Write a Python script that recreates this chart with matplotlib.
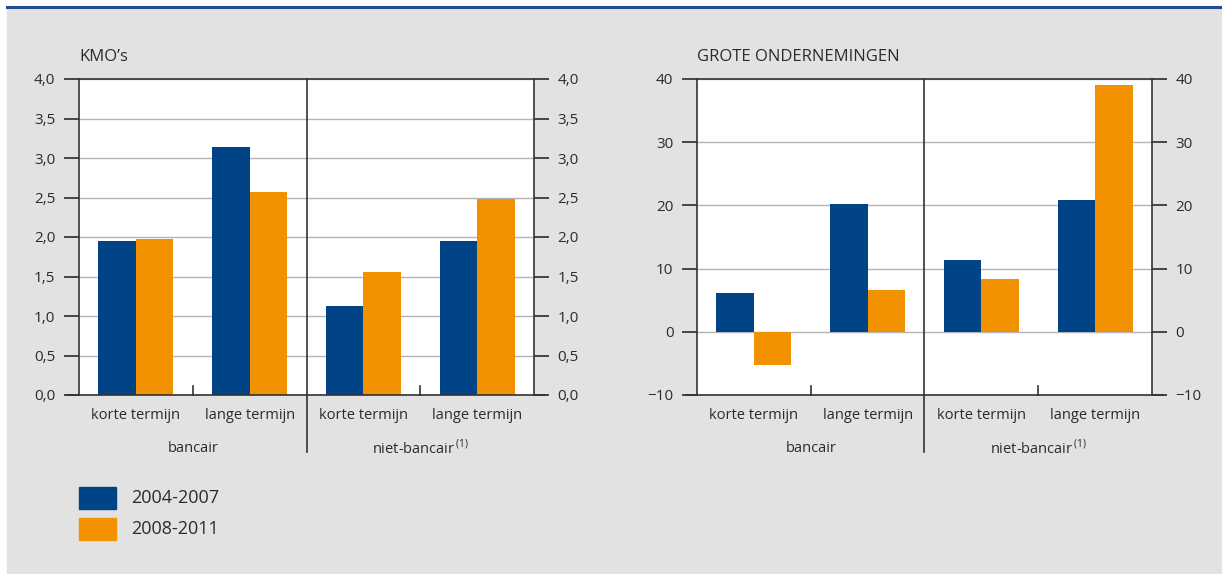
import numpy as np
import matplotlib.pyplot as plt
from matplotlib.patches import Rectangle

plt.rcParams['font.family'] = ['Open Sans', 'DejaVu Sans']

# Data
termijnen = ["korte termijn", "lange termijn", "korte termijn", "lange termijn"]
groepen = ["bancair", "niet-bancair"]
periodes = ["2004-2007", "2008-2011"]

kmo_2004_2007 = [1.95, 3.14, 1.13, 1.95]
kmo_2008_2011 = [1.97, 2.57, 1.56, 2.48]

grote_2004_2007 = [6.2, 20.2, 11.4, 20.8]
grote_2008_2011 = [-5.2, 6.6, 8.4, 39.0]

BLUE = "#004387"
ORANGE = "#f39200"
BG = "#e2e2e2"
TXT = "#2b2b2b"
W, H = 1222, 574

fig = plt.figure(figsize=(W / 100, H / 100), dpi=100)
fig.patch.set_facecolor("white")

# grey panel with a blue rule on top
fig.add_artist(Rectangle((7 / W, 1 / H), 1 - 7 / W, 1 - 9 / H, color=BG,
                         transform=fig.transFigure, zorder=0))
fig.add_artist(plt.Line2D([7 / W, 1.0], [1 - 7 / H, 1 - 7 / H], color="#1f4f8f", lw=2.2,
                          transform=fig.transFigure))


def panel(rect, v1, v2, ylim, yticks, fmt, title):
    ax = fig.add_axes(rect)
    ax.set_facecolor("white")
    x = np.arange(4) + 0.5
    w = 0.33
    ax.bar(x - w / 2, v1, w, color=BLUE, zorder=3)
    ax.bar(x + w / 2, v2, w, color=ORANGE, zorder=3)
    ax.set_xlim(0, 4)
    ax.set_ylim(*ylim)
    ax.set_yticks(yticks)
    ax.set_yticklabels([fmt(t) for t in yticks])
    ax.yaxis.grid(True, color="#b4b4b4", lw=1, zorder=1)
    ax.tick_params(axis="y", which="both", left=True, right=True, labelleft=True,
                   labelright=True, direction="out", length=11, width=1.2,
                   colors=TXT, labelsize=11, pad=6)
    ax.set_xticks([])
    for s in ["left", "right", "top"]:
        ax.spines[s].set_color("#333333")
        ax.spines[s].set_linewidth(1.2)
    ax.spines["bottom"].set_visible(False)

    # baseline extending past the frame
    ax.plot([-0.1, 4.1], [ylim[0], ylim[0]], color="#333333", lw=1.2,
            clip_on=False, zorder=5)
    # divider between bancair and niet-bancair
    ax.plot([2, 2], [1, -0.18], color="#333333", lw=1.2, clip_on=False,
            transform=ax.get_xaxis_transform(), zorder=5)
    # small ticks between korte and lange termijn
    for xt in [1, 3]:
        ax.plot([xt, xt], [0, 0.03], color="#333333", lw=1.2, clip_on=False,
                transform=ax.get_xaxis_transform(), zorder=5)

    for xi, lab in zip(x, termijnen):
        ax.text(xi, -0.065, lab, transform=ax.get_xaxis_transform(),
                ha="center", va="center", fontsize=10.5, color=TXT)
    ax.text(1, -0.168, groepen[0], transform=ax.get_xaxis_transform(),
            ha="center", va="center", fontsize=10.5, color=TXT)
    ax.text(3, -0.168, groepen[1] + r"$^{\,\mathregular{(1)}}$",
            transform=ax.get_xaxis_transform(),
            ha="center", va="center", fontsize=10.5, color=TXT)
    ax.text(0, 1.07, title, transform=ax.transAxes, ha="left", va="center",
            fontsize=12, color=TXT)
    return ax


panel([79 / W, 1 - 395 / H, 455 / W, 316 / H], kmo_2004_2007, kmo_2008_2011,
      (0, 4), np.arange(0, 4.01, 0.5), lambda t: f"{t:.1f}".replace(".", ","), "KMO\u2019s")
panel([697 / W, 1 - 395 / H, 455 / W, 316 / H], grote_2004_2007, grote_2008_2011,
      (-10, 40), np.arange(-10, 41, 10), lambda t: f"{t:.0f}".replace("-", "\u2212"),
      "GROTE ONDERNEMINGEN")

# legend
for i, (lab, col) in enumerate(zip(periodes, [BLUE, ORANGE])):
    top = 487 + i * 31
    fig.add_artist(Rectangle((79 / W, 1 - (top + 22) / H), 37 / W, 22 / H,
                             color=col, transform=fig.transFigure))
    fig.text(131 / W, 1 - (top + 11) / H, lab, ha="left", va="center",
             fontsize=13, color=TXT)

fig.savefig("out.png", dpi=100, facecolor="white")
